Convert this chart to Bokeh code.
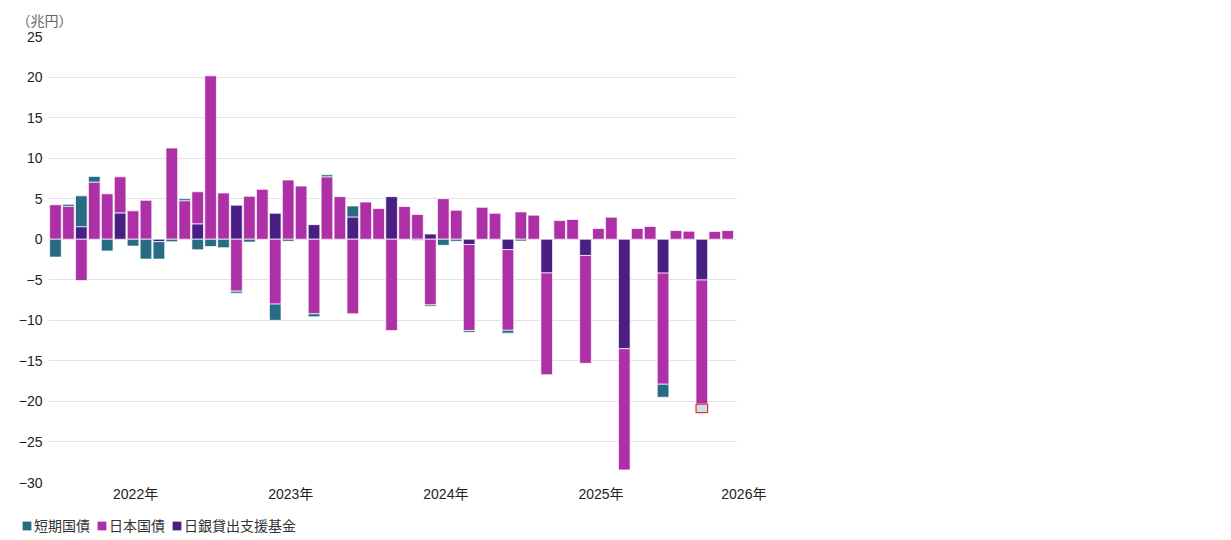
import numpy as np
from bokeh.plotting import figure
from bokeh.layouts import column
from bokeh.models import Range1d, FixedTicker, Legend, LegendItem, Title, ColumnDataSource
from bokeh.embed import file_html
from bokeh.resources import INLINE

# Monthly flows, Jul 2021 - Nov 2025 (trillion yen)
months = []
for yr in range(2021, 2026):
    for mo in range(1, 13):
        if (yr, mo) >= (2021, 7) and (yr, mo) <= (2025, 11):
            months.append(f"{yr}-{mo:02d}")

short_term = [  # 短期国債
    -2.2, 0.25, 3.8, 0.7, -1.45, 0.0, -0.85, -2.45, -2.15, -0.3,
    0.25, -1.3, -0.9, -1.05, -0.25, -0.35, 0.0, -2.0, -0.25, 0.0,
    -0.37, 0.25, 0.0, 1.35, 0.0, 0.0, 0.0, 0.0, -0.12, -0.18,
    -0.75, -0.25, -0.22, 0.0, 0.0, -0.35, -0.22, 0.0, 0.0, 0.0,
    0.0, 0.0, 0.0, 0.0, 0.0, 0.0, 0.0, -1.6, 0.0, 0.0,
    -1.05, 0.0, 0.0,
]
jgb = [  # 日本国債
    4.25, 4.05, -5.1, 7.05, 5.6, 4.45, 3.5, 4.8, 0.0, 11.25,
    4.75, 3.95, 20.15, 5.7, -6.4, 5.3, 6.15, -8.0, 7.3, 6.55,
    -9.2, 7.7, 5.25, -9.2, 4.58, 3.78, -11.25, 4.03, 3.05, -8.1,
    5.0, 3.57, -10.6, 3.93, 3.2, -9.95, 3.37, 2.97, -12.55, 2.3,
    2.43, -13.3, 1.32, 2.72, -14.95, 1.32, 1.57, -13.7, 1.07, 0.99,
    -15.3, 0.95, 1.07,
]
boj_fund = [  # 日銀貸出支援基金
    0.0, 0.0, 1.55, 0.0, 0.0, 3.25, 0.0, 0.0, -0.3, 0.0,
    0.0, 1.9, 0.0, 0.0, 4.2, 0.0, 0.0, 3.2, 0.0, 0.0,
    1.8, 0.0, 0.0, 2.75, 0.0, 0.0, 5.25, 0.0, 0.0, 0.64,
    0.0, 0.0, -0.65, 0.0, 0.0, -1.28, 0.0, 0.0, -4.16, 0.0,
    0.0, -2.0, 0.0, 0.0, -13.5, 0.0, 0.0, -4.18, 0.0, 0.0,
    -5.03, 0.0, 0.0,
]
series_names = ["短期国債", "日本国債", "日銀貸出支援基金"]
year_labels = ["2022年", "2023年", "2024年", "2025年", "2026年"]

COL_SHORT = "#276c82"
COL_JGB = "#ae30a6"
COL_BOJ = "#4a1f84"
FONT = "Liberation Sans, Noto Sans CJK JP"
FS = "14px"
TOTAL_W = 774

x = np.arange(len(months), dtype=float)
s = np.array(short_term)
j = np.array(jgb)
b = np.array(boj_fund)

def pos(a):
    return np.clip(a, 0, None)

def neg(a):
    return np.clip(a, None, 0)

# positive and negative parts stack away from zero separately:
# lending-support fund nearest the axis, then JGBs, then T-bills
b_bot = np.zeros_like(b)
b_top = b
j_bot = np.where(j >= 0, pos(b), neg(b))
j_top = j_bot + j
s_bot = np.where(s >= 0, pos(b) + pos(j), neg(b) + neg(j))
s_top = s_bot + s

def src(bottom, top, vals):
    m = vals != 0
    return ColumnDataSource(dict(x=x[m], bottom=bottom[m], top=top[m]))

x_start = -0.54
x_end = 53.3
p = figure(width=TOTAL_W, height=510, output_backend="svg", toolbar_location=None,
           x_range=Range1d(x_start, x_end), y_range=Range1d(-30, 25),
           min_border_left=48, min_border_right=30, min_border_top=36,
           min_border_bottom=28)
p.outline_line_color = None
p.background_fill_color = "white"
p.border_fill_color = "white"

bar_kw = dict(width=0.9, line_color="white", line_width=1, line_alpha=0.7)
r_b = p.vbar(x="x", bottom="bottom", top="top", source=src(b_bot, b_top, b),
             fill_color=COL_BOJ, **bar_kw)
r_j = p.vbar(x="x", bottom="bottom", top="top", source=src(j_bot, j_top, j),
             fill_color=COL_JGB, **bar_kw)
r_s = p.vbar(x="x", bottom="bottom", top="top", source=src(s_bot, s_top, s),
             fill_color=COL_SHORT, **bar_kw)

# highlighted T-bill segment of the latest quarter-end month
k = len(months) - 3
hl = ColumnDataSource(dict(x=[x[k]], bottom=[s_top[k]], top=[s_bot[k]]))
p.vbar(x="x", bottom="bottom", top="top", source=hl, width=0.9,
       fill_color="#c9dfea", line_color="#e8312f", line_width=1.2)

# year ticks at each January
jan_idx = [months.index(f"{y}-01") for y in range(2022, 2026)]
ticks = [i + 0.2 for i in jan_idx] + [x_end - 0.05]
p.xaxis.ticker = FixedTicker(ticks=ticks)
p.xaxis.major_label_overrides = {t: lab for t, lab in zip(ticks, year_labels)}
p.xaxis.axis_line_color = None
p.xaxis.major_tick_line_color = None
p.xaxis.minor_tick_line_color = None
p.xaxis.major_label_standoff = -3
p.xaxis.major_label_text_font = FONT
p.xaxis.major_label_text_font_size = FS
p.xaxis.major_label_text_color = "#222222"
p.xgrid.grid_line_color = None

p.yaxis.ticker = FixedTicker(ticks=list(range(-30, 26, 5)))
p.yaxis.axis_line_color = None
p.yaxis.major_tick_line_color = None
p.yaxis.minor_tick_line_color = None
p.yaxis.major_label_standoff = 0
p.yaxis.major_label_text_font = FONT
p.yaxis.major_label_text_font_size = FS
p.yaxis.major_label_text_color = "#222222"
p.ygrid.grid_line_color = "#e3e3e3"
p.ygrid.grid_line_width = 1
p.ygrid.cross_bounds = (x_start, 52.68)

p.add_layout(Title(text="（兆円）", align="left", offset=-32,
                   text_font="Noto Sans CJK JP", text_font_size=FS,
                   text_font_style="normal", text_color="#666666",
                   standoff=13), "above")

# legend strip under the chart
lg = figure(width=TOTAL_W, height=30, output_backend="svg", toolbar_location=None,
            x_range=Range1d(0, 1), y_range=Range1d(0, 1),
            min_border_left=0, min_border_right=0, min_border_top=0,
            min_border_bottom=0)
lg.frame_align = False
lg.axis.visible = False
lg.grid.visible = False
lg.outline_line_color = None
colors = [COL_SHORT, COL_JGB, COL_BOJ]
# zero-size swatch carriers for the legend entries
proxies = [lg.vbar(x=[0], top=[0], bottom=[0], width=0, fill_color=c,
                   line_color=None) for c in colors]
legend = Legend(items=[LegendItem(label=n, renderers=[r])
                       for n, r in zip(series_names, proxies)],
                orientation="horizontal", location=(21, 5),
                glyph_width=11, glyph_height=11, label_standoff=2, spacing=6,
                padding=0, margin=0, border_line_color=None,
                background_fill_alpha=0, label_text_font=FONT,
                label_text_font_size=FS, label_text_color="#333333")
lg.add_layout(legend)

layout = column(p, lg, spacing=0)
open("out.html", "w").write(file_html(layout, INLINE))
